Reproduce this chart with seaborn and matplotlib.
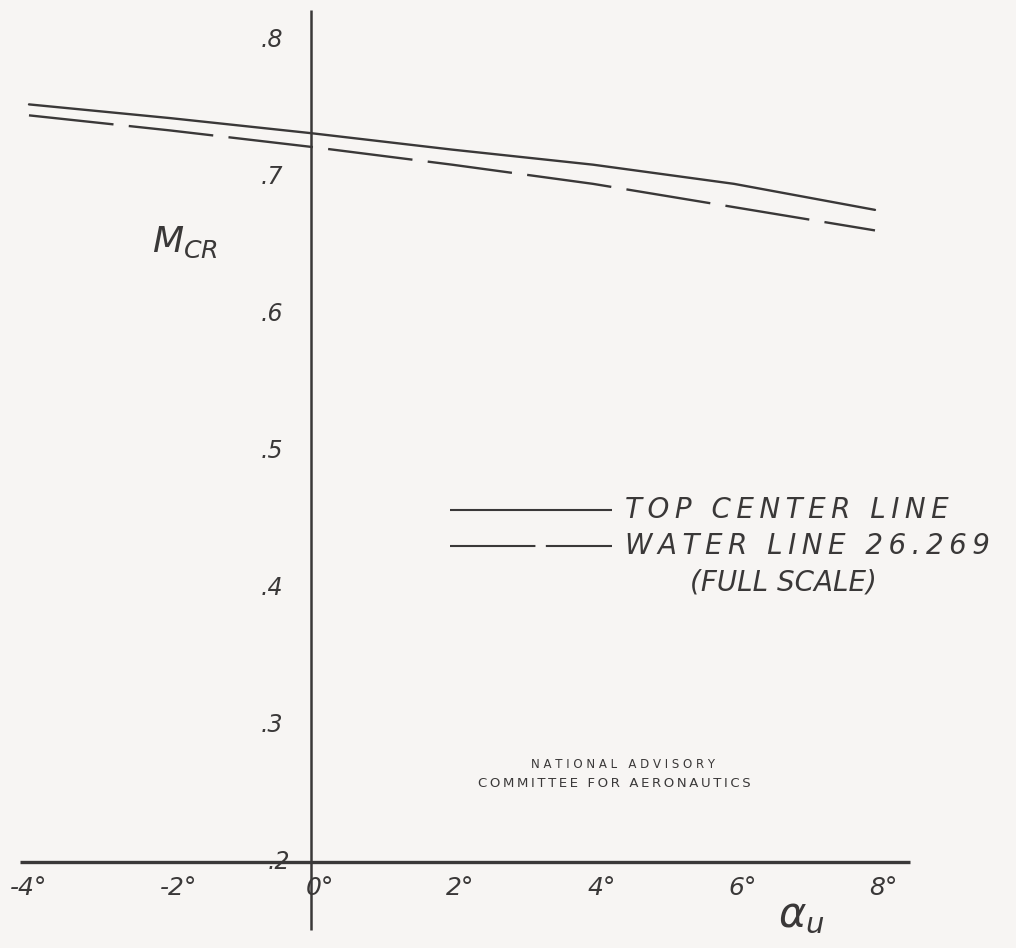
import matplotlib
matplotlib.use("Agg")
import matplotlib.pyplot as plt
import seaborn as sns
import pandas as pd

# ---- data ----
alpha_u = [-4, -2, 0, 2, 4, 6, 8]
m_cr_top_center = [0.753, 0.743, 0.732, 0.720, 0.709, 0.695, 0.676]
m_cr_water_line = [0.745, 0.734, 0.722, 0.709, 0.695, 0.678, 0.661]
series_names = ["TOP CENTER LINE", "WATER LINE 26.269"]
x_ticks = [-4, -2, 0, 2, 4, 6, 8]
x_tick_labels = ["-4°", "-2°", "0°", "2°", "4°", "6°", "8°"]
y_ticks = [0.2, 0.3, 0.4, 0.5, 0.6, 0.7, 0.8]
y_tick_labels = [".2", ".3", ".4", ".5", ".6", ".7", ".8"]

sns.set_theme(style="white")
plt.rcParams["font.family"] = ["DejaVu Sans"]

INK = "#3a3838"
BG = "#f7f5f3"


def spaced(s):
    return "\u2009".join(s)


df = pd.DataFrame({
    "alpha": alpha_u * 2,
    "mcr": m_cr_top_center + m_cr_water_line,
    "series": [series_names[0]] * len(alpha_u) + [series_names[1]] * len(alpha_u),
})

fig = plt.figure(figsize=(10.16, 9.48), dpi=100, facecolor=BG)
ax = fig.add_axes([0, 0, 1, 1], facecolor=BG)

ax.set_xlim(-4.411, 10.0)
ax.set_ylim(0.1372, 0.8292)
ax.axis("off")

# hand-drawn style axes (cross at alpha=0, M=0.2)
ax.plot([-4.13, 8.5], [0.2, 0.2], color=INK, lw=2.4, solid_capstyle="butt")
ax.plot([0, 0], [0.15, 0.822], color=INK, lw=1.8, solid_capstyle="butt")

sns.lineplot(data=df, x="alpha", y="mcr", style="series",
             dashes={series_names[0]: "", series_names[1]: (36, 6.5)},
             color=INK, lw=1.7, ax=ax, legend=False)

# tick labels
for xv, lab in zip(x_ticks, x_tick_labels):
    off = 0.12 if xv != -4 else 0.0
    ax.text(xv + off, 0.181, lab, ha="center", va="center", fontsize=18,
            style="italic", color=INK)
for yv, lab in zip(y_ticks, y_tick_labels):
    xo = -0.55 if yv != 0.2 else -0.45
    ax.text(xo, yv, lab, ha="center", va="center", fontsize=17,
            style="italic", color=INK)

# axis titles
ax.text(-1.79, 0.652, r"$\mathit{M}_{\mathit{CR}}$", ha="center", va="center",
        fontsize=26, color=INK)
ax.text(6.95, 0.161, r"$\alpha_{u}$", ha="center", va="center",
        fontsize=30, color=INK)

# legend drawn in place
ax.plot([1.97, 4.27], [0.457, 0.457], color=INK, lw=1.5, solid_capstyle="butt")
ax.plot([1.97, 4.27], [0.431, 0.431], color=INK, lw=1.5,
        dashes=(41, 5), dash_capstyle="butt")
ax.text(4.45, 0.457, spaced(series_names[0]), ha="left", va="center",
        fontsize=20, style="italic", color=INK)
ax.text(4.45, 0.431, spaced(series_names[1]), ha="left", va="center",
        fontsize=20, style="italic", color=INK)
ax.text(5.37, 0.404, "(FULL SCALE)", ha="left", va="center",
        fontsize=20, style="italic", color=INK)

# stamp
ax.text(4.42, 0.2715, "N A T I O N A L   A D V I S O R Y", ha="center", va="center",
        fontsize=8.5, color=INK)
ax.text(4.30, 0.2575, spaced("COMMITTEE FOR AERONAUTICS"), ha="center", va="center",
        fontsize=9.5, color=INK)

fig.savefig("out.png", dpi=100, facecolor=BG)
